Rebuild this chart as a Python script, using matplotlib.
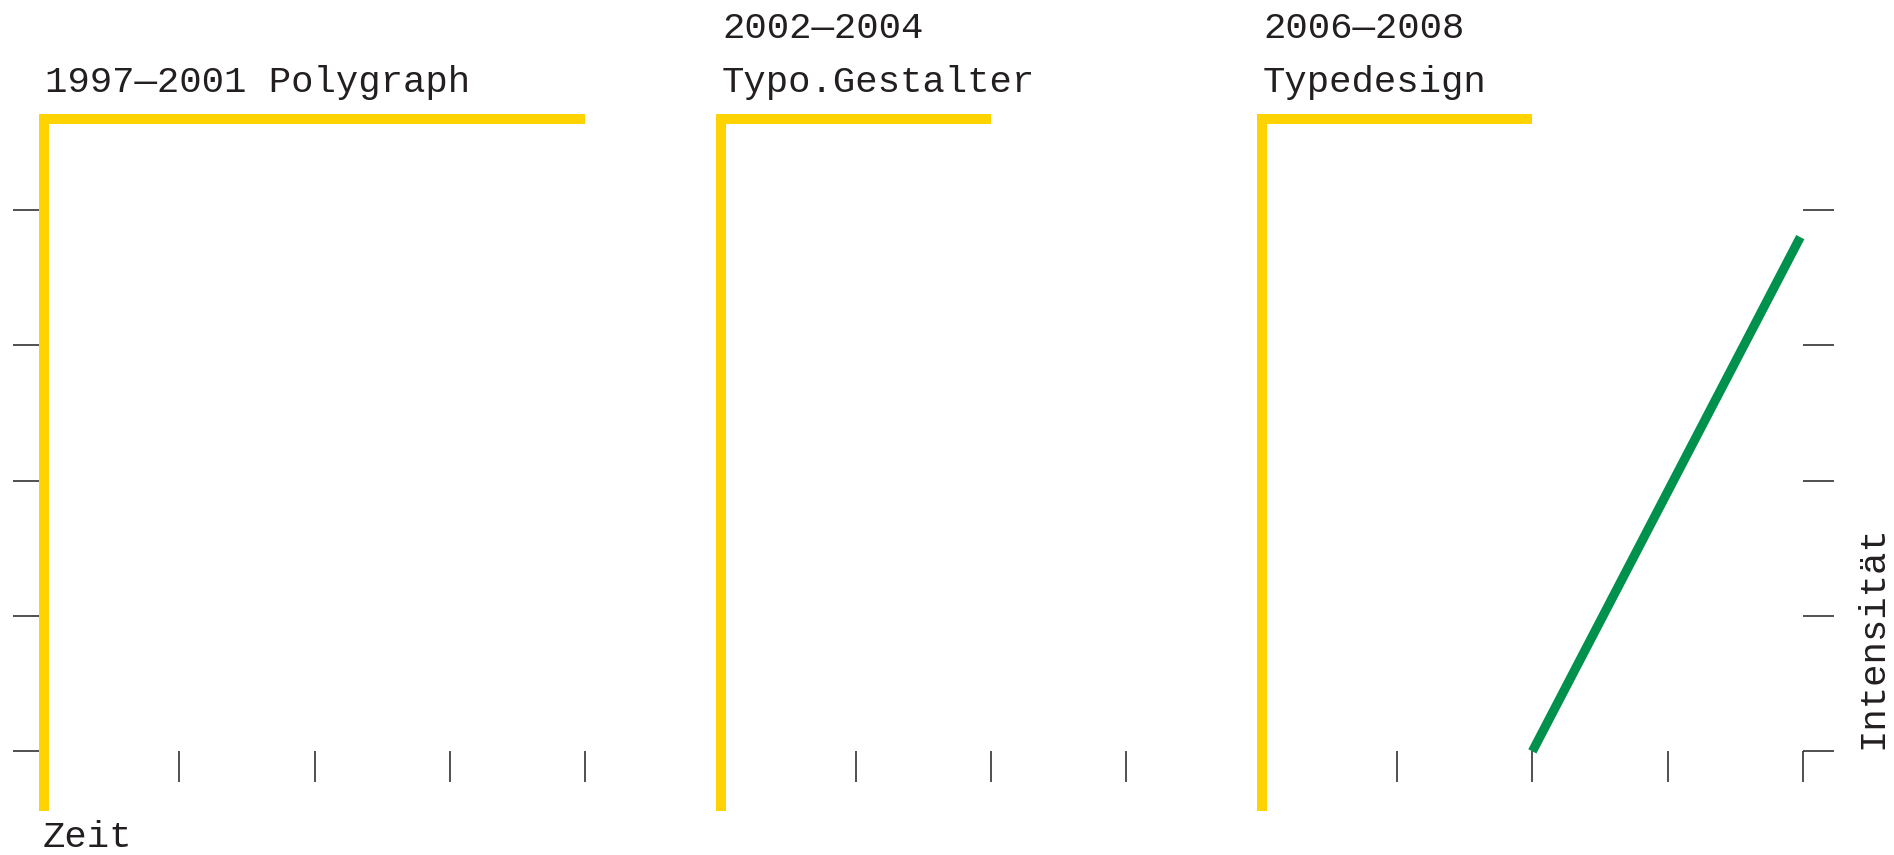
import matplotlib.pyplot as plt

# career phases: start / end on the time axis, captions above each bracket
phase_start = [0, 5, 9]
phase_end = [4, 7, 11]
phase_top = [None, "2002—2004", "2006—2008"]
phase_bottom = ["1997—2001 Polygraph", "Typo.Gestalter", "Typedesign"]
phase_level = 4.67
phase_floor = -0.44

# intensity rising over the last stretch
trend_x = [11, 12.98]
trend_y = [0, 3.8]

x_ticks = list(range(0, 14))
y_ticks = [0, 1, 2, 3, 4]

yellow = "#FFD300"
green = "#00914C"
ink = "#231F20"

plt.rcParams['font.family'] = ['Liberation Mono', 'DejaVu Sans Mono']

fig = plt.figure(figsize=(18.94, 8.55), dpi=100)
ax = fig.add_axes([44 / 1894, 0.0421, 1759 / 1894, 0.8309])
ax.set_xlim(0, 13)
ax.set_ylim(-0.5, 4.75)

# time axis sits on y = 0, spines themselves stay hidden
ax.spines['bottom'].set_position(('data', 0))
for s in ax.spines.values():
    s.set_visible(False)

ax.set_xticks(x_ticks)
ax.set_yticks(y_ticks)
ax.tick_params(axis='both', direction='out', length=22, width=1.1, color=ink,
               labelbottom=False, labelleft=False)
ax.tick_params(axis='y', right=True, labelright=False)

# yellow brackets, one per phase
for x0, x1, top, bottom in zip(phase_start, phase_end, phase_top, phase_bottom):
    ax.plot([x0, x0, x1], [phase_floor, phase_level, phase_level], color=yellow,
            lw=7.2, solid_joinstyle='miter', solid_capstyle='butt',
            zorder=3, clip_on=False)
    ax.text(x0 + 0.01, 4.873, bottom, fontsize=26.8, color=ink,
            ha='left', va='baseline', clip_on=False)
    if top:
        ax.text(x0 + 0.01, 5.272, top, fontsize=26.8, color=ink,
                ha='left', va='baseline', clip_on=False)

ax.plot(trend_x, trend_y, color=green, lw=6.6, solid_capstyle='butt',
        zorder=3, clip_on=False)

ax.text(-0.01, -0.707, "Zeit", fontsize=26.8, color=ink,
        ha='left', va='baseline', clip_on=False)
ax.text(13.59, 0.02, "Intensität", fontsize=26.8, color=ink, rotation=90,
        rotation_mode='anchor', ha='left', va='baseline', clip_on=False)

plt.savefig("out.png", dpi=100)
